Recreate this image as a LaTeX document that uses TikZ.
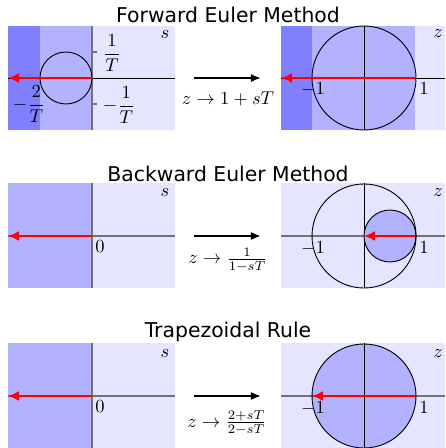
\documentclass[tikz,border=0pt]{standalone}
\usepackage{fontspec}
\newfontfamily\titlefont{DejaVu Sans}
\usetikzlibrary{arrows.meta}
\begin{document}
\begin{tikzpicture}[x=0.54pt,y=-0.54pt,
  lightb/.style={fill=blue!10},
  medb/.style={fill=blue!30},
  darkb/.style={fill=blue!50},
  redarrow/.style={draw=red, line width=1.3pt, -{Latex[length=6pt,width=5.5pt]}},
  maparrow/.style={draw=black, line width=1.1pt, -{Latex[length=5.5pt,width=4.5pt]}},
  gaxis/.style={draw=black!55, line width=0.9pt},
  baxis/.style={draw=black, line width=0.5pt},
  ring/.style={draw=black, line width=0.5pt},
  ttl/.style={font=\titlefont\fontsize{11}{13}\selectfont, inner sep=0pt},
  lbl/.style={inner sep=0pt}
]
\useasboundingbox (0,0) rectangle (445,448);
\def\rs{14.04pt}
\def\rz{28.08pt}

% ===== Panel 1: Forward Euler =====
\node[ttl] (t1) at (228,15) {Forward Euler Method};
\fill[lightb] (8,26) rectangle (175,130);
\fill[medb] (8,26) rectangle (92,130);
\fill[darkb] (8,26) rectangle (40,130);
\draw[baxis] (8,78) -- (175,78);
\draw[gaxis] (92,26) -- (92,130);
\draw[gaxis] (92,52) -- (97,52);
\draw[gaxis] (92,104) -- (97,104);
\draw[ring] (66,78) circle[radius=\rs];
\coordinate (so1) at (92,78);
\coordinate (sl1) at (8,78);
\draw[redarrow] (so1) -- (sl1);
\node[lbl] (s1) at (165,35) {$s$};
\node[lbl] (p1a) at (112,53) {$\displaystyle\frac{1}{T}$};
\node[lbl] (p1b) at (119,105) {$\displaystyle-\frac{1}{T}$};
\node[lbl] (p1c) at (29,104) {$\displaystyle-\frac{2}{T}$};

\fill[lightb] (281,26) rectangle (445,130);
\fill[medb] (281,26) rectangle (415,130);
\fill[darkb] (281,26) rectangle (312,130);
\draw[baxis] (281,78) -- (445,78);
\draw[baxis] (364,26) -- (364,130);
\draw[ring] (364,78) circle[radius=\rz];
\coordinate (zo1) at (415,78);
\coordinate (zl1) at (281,78);
\draw[redarrow] (zo1) -- (zl1);
\node[lbl] (z1) at (438,34) {$z$};
\node[lbl] (m1a) at (313,89) {$-1$};
\node[lbl] (m1b) at (424,89) {$1$};

\coordinate (a1s) at (194,78);
\coordinate (a1e) at (261,78);
\draw[maparrow] (a1s) -- (a1e);
\node[lbl] (f1) at (228,99) {$z\rightarrow 1+sT$};

% ===== Panel 2: Backward Euler =====
\node[ttl] (t2) at (228,174) {Backward Euler Method};
\fill[lightb] (8,183) rectangle (175,288);
\fill[medb] (8,183) rectangle (92,288);
\draw[gaxis] (8,236) -- (175,236);
\draw[gaxis] (92,183) -- (92,288);
\coordinate (so2) at (92,236);
\coordinate (sl2) at (8,236);
\draw[redarrow] (so2) -- (sl2);
\node[lbl] (s2) at (165,193) {$s$};
\node[lbl] (o2) at (100,247) {$0$};

\fill[lightb] (281,183) rectangle (445,288);
\draw[gaxis] (281,236) -- (445,236);
\draw[baxis] (364,183) -- (364,288);
\draw[ring, medb] (390,236) circle[radius=\rs];
\draw[ring] (364,236) circle[radius=\rz];
\coordinate (zo2) at (415,236);
\coordinate (zl2) at (364,236);
\draw[redarrow] (zo2) -- (zl2);
\node[lbl] (z2) at (438,193) {$z$};
\node[lbl] (m2a) at (313,248) {$-1$};
\node[lbl] (m2b) at (424,248) {$1$};

\coordinate (a2s) at (194,236);
\coordinate (a2e) at (261,236);
\draw[maparrow] (a2s) -- (a2e);
\node[lbl] (f2) at (228,260) {$z\rightarrow \frac{1}{1-sT}$};

% ===== Panel 3: Trapezoidal =====
\node[ttl] (t3) at (228,332) {Trapezoidal Rule};
\fill[lightb] (8,343) rectangle (175,448);
\fill[medb] (8,343) rectangle (92,448);
\draw[gaxis] (8,396) -- (175,396);
\draw[gaxis] (92,343) -- (92,448);
\coordinate (so3) at (92,396);
\coordinate (sl3) at (8,396);
\draw[redarrow] (so3) -- (sl3);
\node[lbl] (s3) at (165,354) {$s$};
\node[lbl] (o3) at (100,407) {$0$};

\fill[lightb] (281,343) rectangle (445,448);
\fill[medb] (364,396) circle[radius=\rz];
\draw[gaxis] (281,396) -- (445,396);
\draw[baxis] (364,343) -- (364,448);
\draw[ring] (364,396) circle[radius=\rz];
\coordinate (zo3) at (415,396);
\coordinate (zl3) at (312,396);
\draw[redarrow] (zo3) -- (zl3);
\node[lbl] (z3) at (438,354) {$z$};
\node[lbl] (m3a) at (313,408) {$-1$};
\node[lbl] (m3b) at (424,408) {$1$};

\coordinate (a3s) at (194,396);
\coordinate (a3e) at (261,396);
\draw[maparrow] (a3s) -- (a3e);
\node[lbl] (f3) at (227,423) {$z\rightarrow \frac{2+sT}{2-sT}$};
\end{tikzpicture}
\end{document}
